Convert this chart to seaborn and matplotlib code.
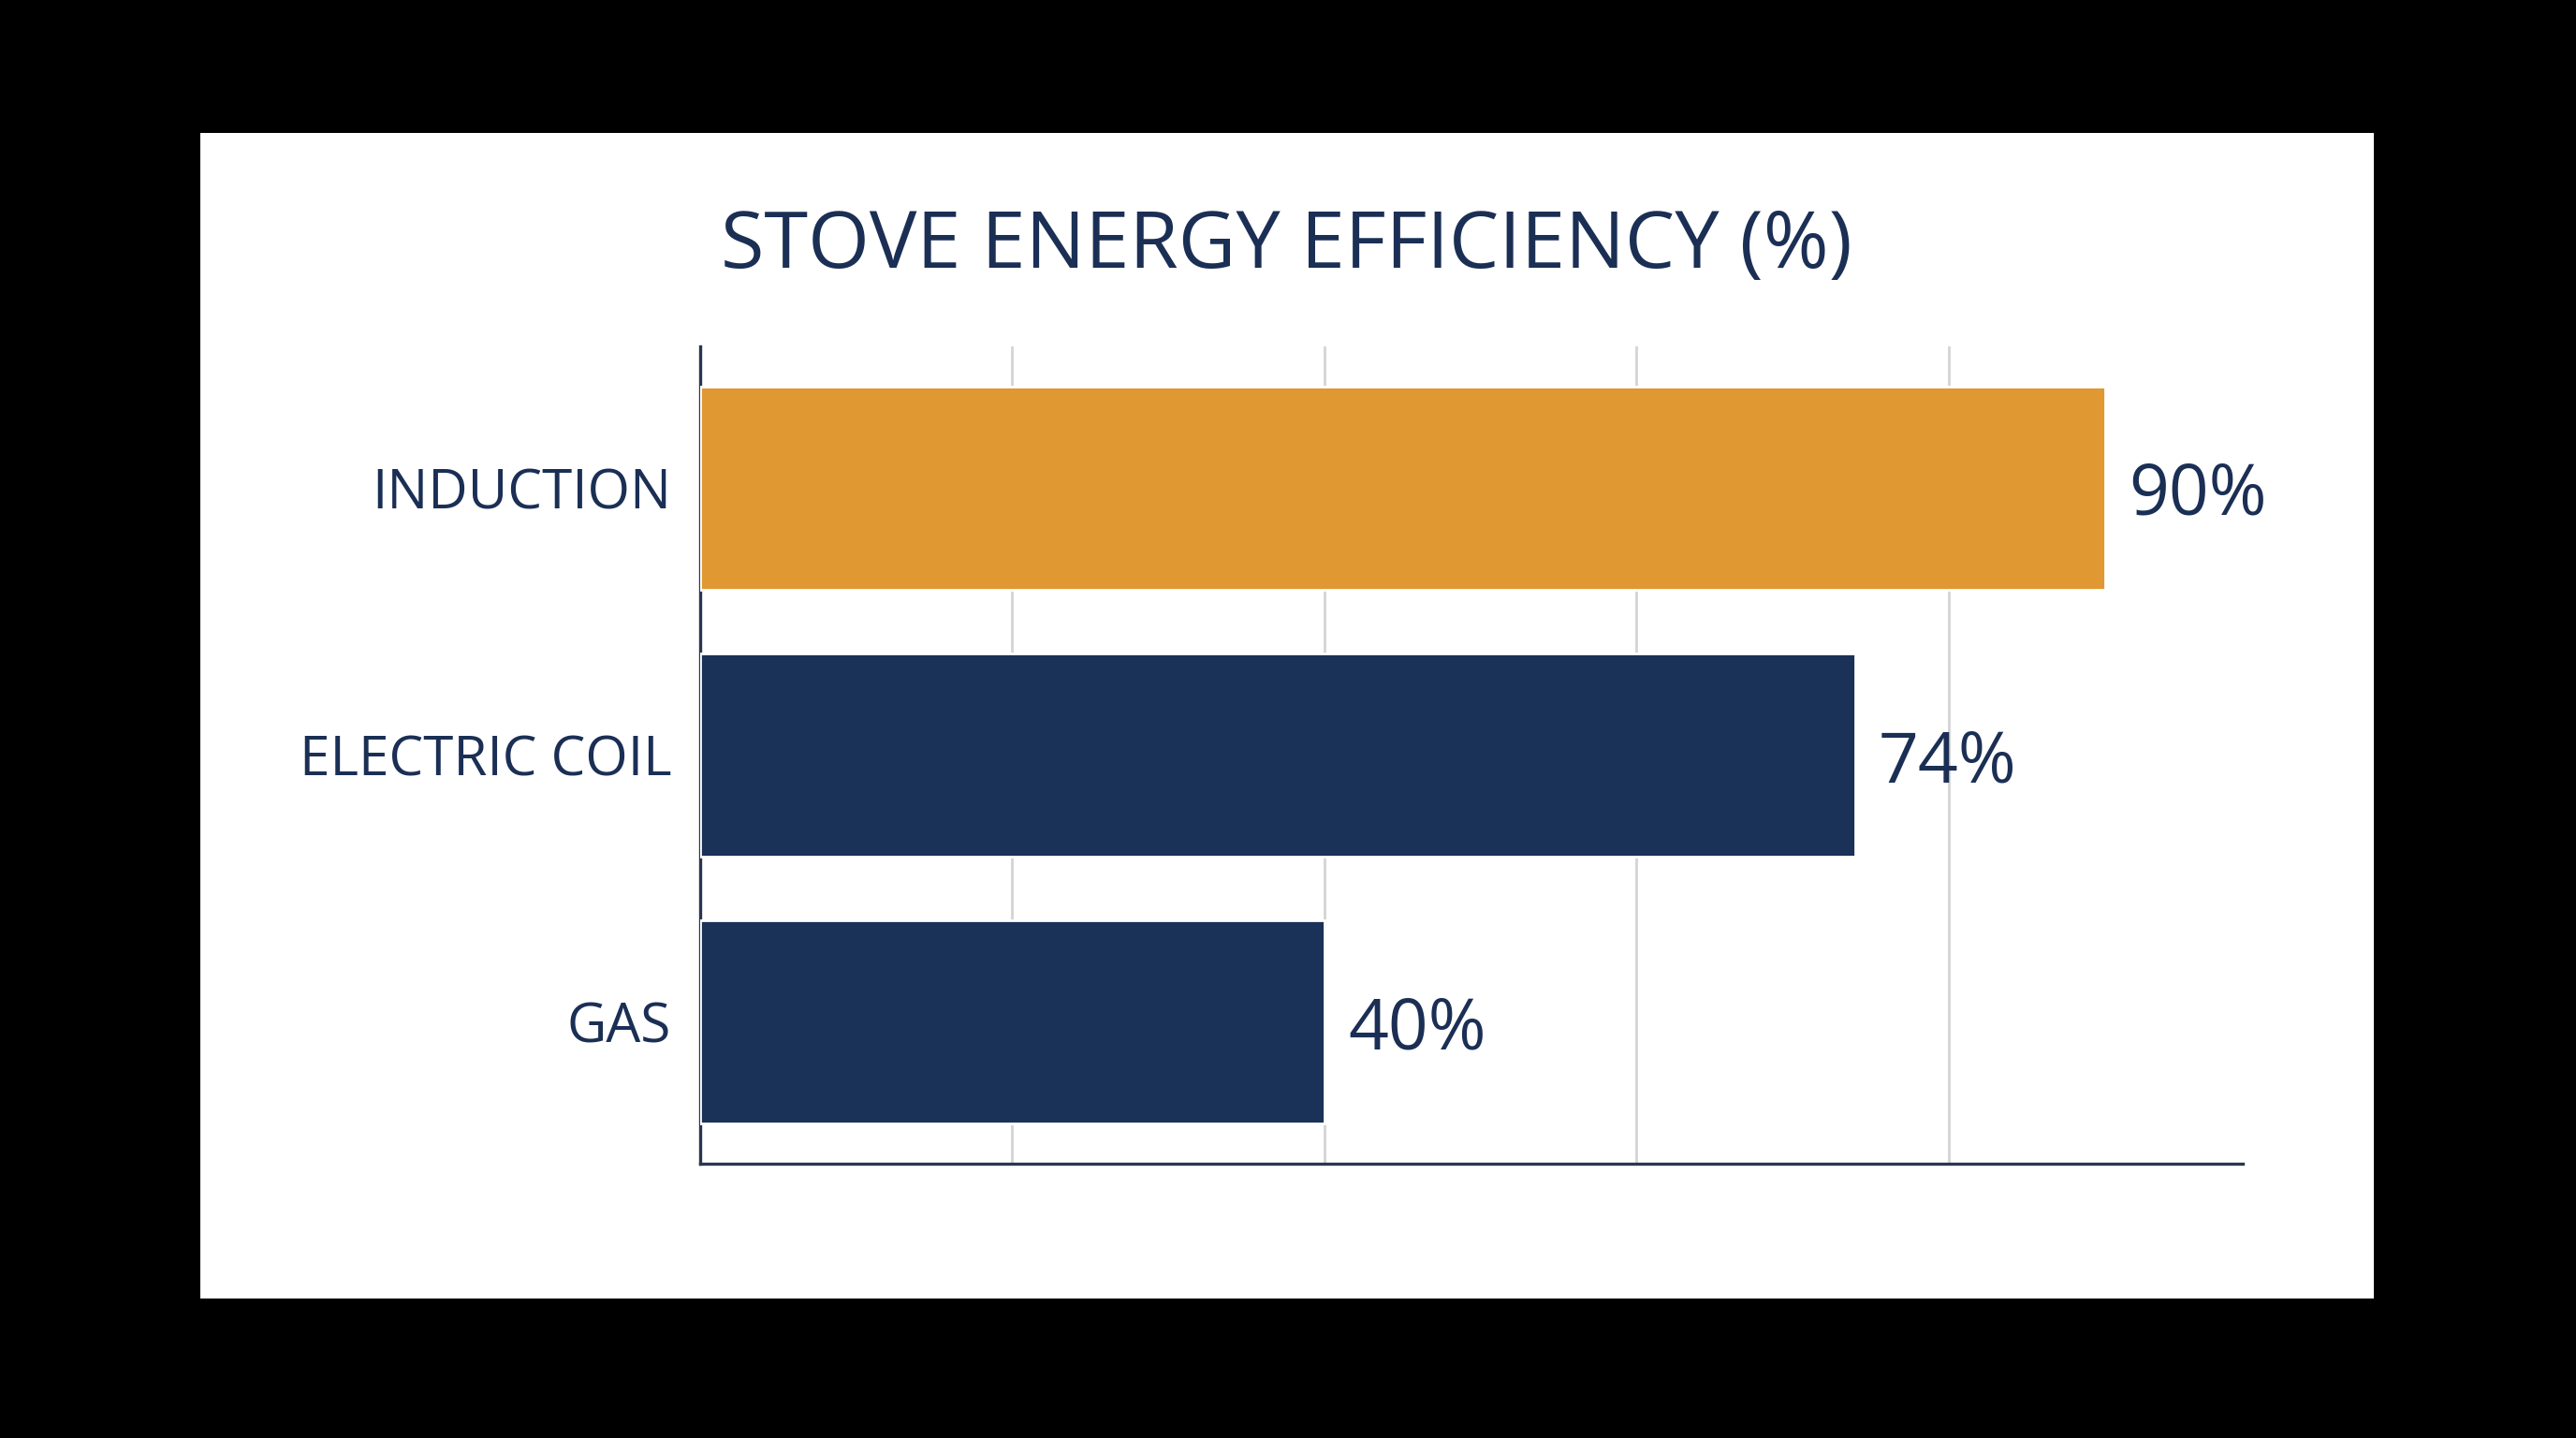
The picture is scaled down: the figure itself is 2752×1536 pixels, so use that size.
import matplotlib
matplotlib.use("Agg")
import matplotlib.pyplot as plt
import seaborn as sns
import pandas as pd
from matplotlib.patches import Rectangle

categories = ["INDUCTION", "ELECTRIC COIL", "GAS"]
values = [90, 74, 40]
bar_colors = ["#E09832", "#1A3158", "#1A3158"]
title = "STOVE ENERGY EFFICIENCY (%)"
grid_ticks = [0, 20, 40, 60, 80]

NAVY = "#1B2F55"

sns.set_theme(style="white")
plt.rcParams["font.family"] = ["Open Sans", "DejaVu Sans"]

fig = plt.figure(figsize=(13.76, 7.68), dpi=200)
fig.patch.set_facecolor("black")
fig.patches.append(Rectangle((0.0778, 0.0971), 0.9216 - 0.0778, 0.9074 - 0.0971,
                             transform=fig.transFigure, facecolor="white",
                             edgecolor="none", zorder=-5))

ax = fig.add_axes([0.2717, 0.1909, 0.8705 - 0.2717, 0.7589 - 0.1909])
ax.set_zorder(2)
ax.set_facecolor("none")

df = pd.DataFrame({"cat": categories, "val": values})
sns.barplot(data=df, x="val", y="cat", hue="cat", palette=bar_colors,
            order=categories, hue_order=categories, width=0.76,
            legend=False, ax=ax, saturation=1, zorder=3)

ax.set_xlim(0, 98.8)
ax.set_ylim(2.53, -0.53)
ax.set_xticks(grid_ticks)
ax.set_xticklabels([])
ax.tick_params(axis="x", length=0)
ax.tick_params(axis="y", length=0, pad=11, labelsize=21, labelcolor=NAVY)
for lbl in ax.get_yticklabels():
    lbl.set_fontweight("medium")
    lbl.set_verticalalignment("center_baseline")
for x in grid_ticks[1:]:
    ax.axvline(x, color="#D4D4D4", lw=1.0, zorder=1)
ax.set_xlabel("")
ax.set_ylabel("")
for s in ["top", "right"]:
    ax.spines[s].set_visible(False)
for s in ["left", "bottom"]:
    ax.spines[s].set_color("#2A3550")
    ax.spines[s].set_linewidth(1.2)

for i, v in enumerate(values):
    ax.text(v + 1.5, i, f"{v}%", va="center_baseline", ha="left", fontsize=27,
            color=NAVY, fontweight="medium")

fig.text(0.4994, 0.828, title, ha="center", va="center", fontsize=30.5,
         color=NAVY, fontweight="medium")

fig.savefig("out.png", dpi=200, facecolor=fig.get_facecolor())
